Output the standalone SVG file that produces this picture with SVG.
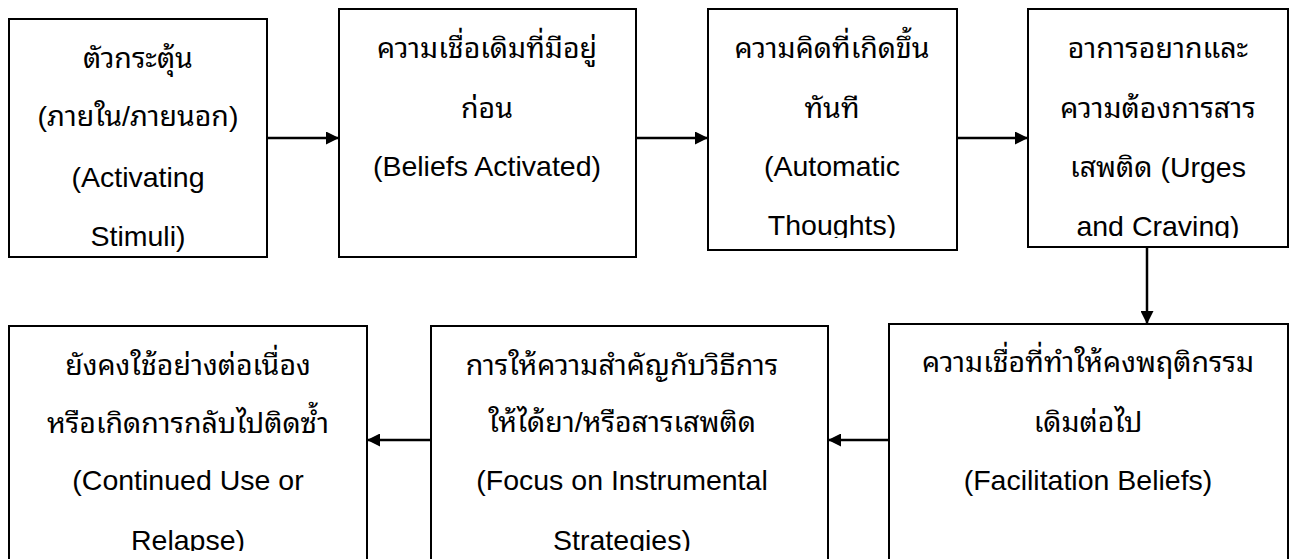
<svg xmlns="http://www.w3.org/2000/svg" width="1291" height="559" viewBox="0 0 1291 559">
<style>
.box{fill:#fff;stroke:#000;stroke-width:2}
.t{font-family:"Liberation Sans","Noto Sans Thai Looped","Noto Sans Thai","Loma","Garuda",sans-serif;font-size:28.5px;fill:#000;text-anchor:middle}
.c{stroke:#000;stroke-width:2.5;fill:none}
</style>
<defs>
<marker id="ah" viewBox="0 0 10 10" refX="10" refY="5" markerWidth="6" markerHeight="5.2" markerUnits="strokeWidth" orient="auto">
<path d="M0,0 L10,5 L0,10 Z" fill="#000"/>
</marker>
<clipPath id="c3"><rect x="708" y="9" width="249" height="229"/></clipPath>
<clipPath id="c4"><rect x="1028" y="9" width="260" height="229"/></clipPath>
<clipPath id="cb"><rect x="0" y="320" width="1291" height="231"/></clipPath>
</defs>
<rect width="1291" height="559" fill="#fff"/>
<g id="connectors">
<line class="c" x1="267" y1="138" x2="339" y2="138" marker-end="url(#ah)"/>
<line class="c" x1="636" y1="138" x2="708" y2="138" marker-end="url(#ah)"/>
<line class="c" x1="957" y1="138" x2="1028" y2="138" marker-end="url(#ah)"/>
<line class="c" x1="1147" y1="247" x2="1147" y2="324" marker-end="url(#ah)"/>
<line class="c" x1="889" y1="440" x2="828" y2="440" marker-end="url(#ah)"/>
<line class="c" x1="431" y1="440" x2="367" y2="440" marker-end="url(#ah)"/>
</g>
<g id="n1">
<rect class="box" x="9" y="19" width="258" height="238"/>
<text class="t" x="138" y="68">ตัวกระตุ้น</text>
<text class="t" x="138" y="126">(ภายใน/ภายนอก)</text>
<text class="t" x="138" y="187">(Activating</text>
<text class="t" x="138" y="246">Stimuli)</text>
</g>
<g id="n2">
<rect class="box" x="339" y="9" width="297" height="248"/>
<text class="t" x="487" y="58">ความเชื่อเดิมที่มีอยู่</text>
<text class="t" x="487" y="118">ก่อน</text>
<text class="t" x="487" y="176">(Beliefs Activated)</text>
</g>
<g id="n3">
<rect class="box" x="708" y="9" width="249" height="241"/>
<g clip-path="url(#c3)">
<text class="t" x="832" y="58">ความคิดที่เกิดขึ้น</text>
<text class="t" x="832" y="118">ทันที</text>
<text class="t" x="832" y="176">(Automatic</text>
<text class="t" x="832" y="235">Thoughts)</text>
</g>
</g>
<g id="n4">
<rect class="box" x="1028" y="9" width="260" height="238"/>
<g clip-path="url(#c4)">
<text class="t" x="1158" y="58">อาการอยากและ</text>
<text class="t" x="1158" y="118">ความต้องการสาร</text>
<text class="t" x="1158" y="177">เสพติด (Urges</text>
<text class="t" x="1158" y="236">and Craving)</text>
</g>
</g>
<g id="n7">
<rect class="box" x="889" y="324" width="399" height="260"/>
<text class="t" x="1088" y="372">ความเชื่อที่ทำให้คงพฤติกรรม</text>
<text class="t" x="1088" y="432">เดิมต่อไป</text>
<text class="t" x="1088" y="490">(Facilitation Beliefs)</text>
</g>
<g id="n6">
<rect class="box" x="431" y="326" width="397" height="260"/>
<g clip-path="url(#cb)">
<text class="t" x="622" y="375">การให้ความสำคัญกับวิธีการ</text>
<text class="t" x="622" y="432">ให้ได้ยา/หรือสารเสพติด</text>
<text class="t" x="622" y="490">(Focus on Instrumental</text>
<text class="t" x="622" y="550">Strategies)</text>
</g>
</g>
<g id="n5">
<rect class="box" x="9" y="326" width="358" height="260"/>
<g clip-path="url(#cb)">
<text class="t" x="188" y="375">ยังคงใช้อย่างต่อเนื่อง</text>
<text class="t" x="188" y="433">หรือเกิดการกลับไปติดซ้ำ</text>
<text class="t" x="188" y="490">(Continued Use or</text>
<text class="t" x="188" y="550">Relapse)</text>
</g>
</g>
</svg>
